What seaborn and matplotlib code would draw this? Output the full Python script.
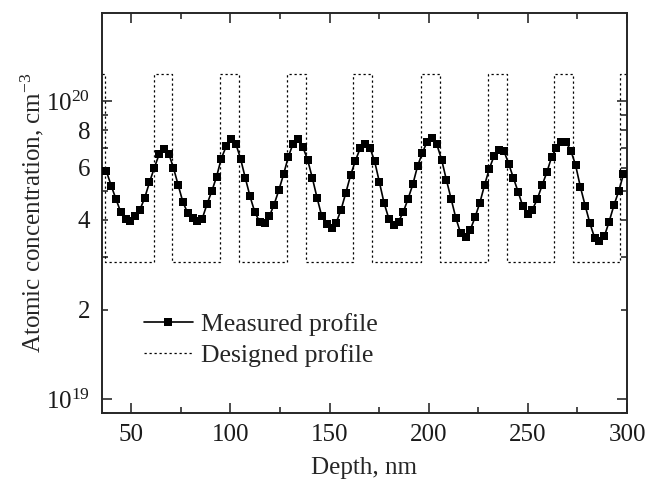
import numpy as np
import matplotlib
matplotlib.use('Agg')
import matplotlib.pyplot as plt
import seaborn as sns
from matplotlib.ticker import LogLocator, FuncFormatter, MultipleLocator

# measured profile: depth (nm) and concentration (x1e19 cm^-3)
depth_nm = [37.5, 39.9, 42.3, 44.7, 47.2, 49.6, 52.0, 54.4, 56.8, 59.2,
            61.6, 64.1, 66.5, 68.9, 71.3, 73.7, 76.1, 78.5, 81.0, 83.4,
            85.8, 88.2, 90.6, 93.0, 95.4, 97.9, 100.3, 102.7, 105.1, 107.5,
            109.9, 112.3, 114.7, 117.2, 119.6, 122.0, 124.4, 126.8, 129.2, 131.6,
            134.1, 136.5, 138.9, 141.3, 143.7, 146.1, 148.5, 151.0, 153.4, 155.8,
            158.2, 160.6, 163.0, 165.4, 167.9, 170.3, 172.7, 175.1, 177.5, 179.9,
            182.3, 184.8, 187.2, 189.6, 192.0, 194.4, 196.8, 199.2, 201.7, 204.1,
            206.5, 208.9, 211.3, 213.7, 216.1, 218.6, 221.0, 223.4, 225.8, 228.2,
            230.6, 233.0, 235.4, 237.9, 240.3, 242.7, 245.1, 247.5, 249.9, 252.3,
            254.8, 257.2, 259.6, 262.0, 264.4, 266.8, 269.2, 271.7, 274.1, 276.5,
            278.9, 281.3, 283.7, 286.1, 288.6, 291.0, 293.4, 295.8, 298.2]
measured = [5.82, 5.21, 4.70, 4.25, 4.03, 3.98, 4.12, 4.33, 4.75, 5.35,
            5.98, 6.65, 6.91, 6.68, 5.98, 5.23, 4.58, 4.22, 4.05, 3.96,
            4.04, 4.52, 4.99, 5.58, 6.43, 7.07, 7.46, 7.22, 6.43, 5.54,
            4.80, 4.25, 3.95, 3.90, 4.11, 4.50, 5.03, 5.69, 6.51, 7.22,
            7.45, 7.04, 6.38, 5.54, 4.75, 4.11, 3.88, 3.76, 3.92, 4.33,
            4.93, 5.65, 6.31, 6.95, 7.22, 7.00, 6.31, 5.37, 4.56, 4.04,
            3.86, 3.95, 4.26, 4.71, 5.27, 6.07, 6.72, 7.32, 7.56, 7.17,
            6.38, 5.46, 4.71, 4.06, 3.61, 3.52, 3.71, 4.09, 4.57, 5.25,
            5.95, 6.57, 6.86, 6.83, 6.18, 5.54, 4.97, 4.44, 4.20, 4.33,
            4.71, 5.23, 5.79, 6.51, 7.00, 7.28, 7.32, 6.83, 6.10, 5.16,
            4.47, 3.90, 3.48, 3.40, 3.53, 3.95, 4.48, 4.99, 5.69]

# designed profile: step edges (nm) and level after each edge (x1e19 cm^-3)
design_edges = [35, 37.0, 61.7, 70.6, 94.9, 104.1, 128.5, 137.9, 162.0,
                171.6, 196.0, 205.6, 229.7, 239.3, 263.3, 272.9, 296.4, 300]
design_levels = [12.4, 2.89, 12.4, 2.89, 12.4, 2.89, 12.4, 2.89, 12.4,
                 2.89, 12.4, 2.89, 12.4, 2.89, 12.4, 2.89, 12.4, 12.4]

sns.set_style('ticks')
plt.rcParams['font.family'] = ['Liberation Serif', 'DejaVu Serif']
plt.rcParams['mathtext.fontset'] = 'custom'
plt.rcParams['mathtext.rm'] = 'Liberation Serif'
plt.rcParams['mathtext.it'] = 'Liberation Serif:italic'
plt.rcParams['axes.linewidth'] = 1.4

fig = plt.figure(figsize=(6.51, 4.79), dpi=100)
ax = fig.add_axes([101.5 / 651, 1 - 413 / 479, (627 - 101.5) / 651, (413 - 13) / 479])

sns.lineplot(x=depth_nm, y=np.array(measured) * 1e19, color='black', lw=1.2,
             marker='s', markersize=6, markeredgewidth=0, estimator=None,
             sort=False, label='Measured profile', zorder=3, ax=ax)
sns.lineplot(x=design_edges, y=np.array(design_levels) * 1e19, color='black',
             lw=0.9, linestyle=(0, (1.8, 2.2)), drawstyle='steps-post',
             estimator=None, sort=False, label='Designed profile', ax=ax)

ax.set_yscale('log')
ax.set_xlim(35, 300)
ax.set_ylim(9.0e18, 1.98e20)

ax.xaxis.set_major_locator(MultipleLocator(50))
ax.xaxis.set_minor_locator(MultipleLocator(25))
ax.yaxis.set_major_locator(LogLocator(base=10, numticks=10))
ax.yaxis.set_minor_locator(LogLocator(base=10, subs=np.arange(2, 10), numticks=10))
ax.yaxis.set_major_formatter(FuncFormatter(lambda v, p: r'$10^{%d}$' % round(np.log10(v))))


def minor_label(v, p):
    m = int(round(v / 10 ** np.floor(np.log10(v) + 1e-9)))
    return str(m) if m in (2, 4, 6, 8) else ''


ax.yaxis.set_minor_formatter(FuncFormatter(minor_label))

ax.tick_params(which='both', direction='in', top=True, right=True,
               labelsize=18, width=1.1, colors='#1a1a1a')
ax.tick_params(which='major', length=7, pad=8)
ax.tick_params(which='minor', length=4, pad=8)

ax.set_xlabel('Depth, nm', fontsize=18, labelpad=8)
ax.set_ylabel(r'Atomic concentration, cm$^{-3}$', fontsize=18, labelpad=0)

leg = ax.legend(loc='center left', bbox_to_anchor=(144 / 651, 1 - 340 / 479),
                bbox_transform=fig.transFigure, frameon=False, fontsize=18.5,
                borderpad=0, borderaxespad=0, handlelength=1.9,
                handletextpad=0.3, labelspacing=0.3)

fig.savefig('out.png', dpi=100)
